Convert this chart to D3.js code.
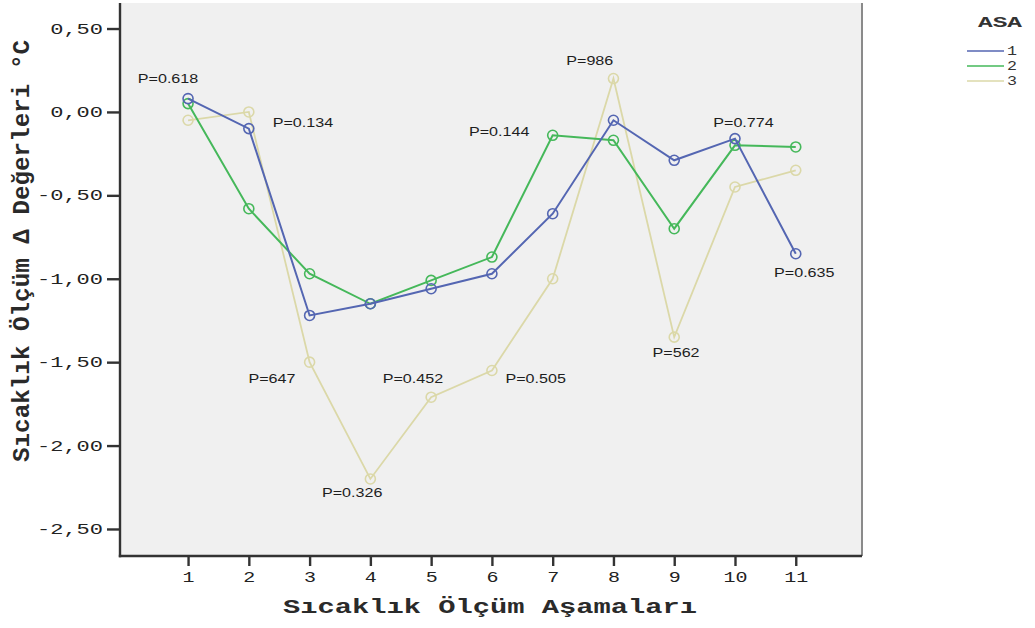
<!DOCTYPE html>
<meta charset="utf-8">
<script src="https://d3js.org/d3.v7.min.js"></script>
<style>
body { margin: 0; background: #fff; }
svg { display: block; }
.mono { font-family: "Liberation Mono", "DejaVu Sans Mono", monospace; }
.note { font-family: "Liberation Sans", Arial, sans-serif; font-size: 13px; fill: #1e1e1e; }
</style>
<svg width="1035" height="628"></svg>
<script>
const stages = [1, 2, 3, 4, 5, 6, 7, 8, 9, 10, 11];
const asa1 = [0.08, -0.10, -1.22, -1.15, -1.06, -0.97, -0.61, -0.05, -0.29, -0.16, -0.85];
const asa2 = [0.05, -0.58, -0.97, -1.15, -1.01, -0.87, -0.14, -0.17, -0.70, -0.20, -0.21];
const asa3 = [-0.05, 0.00, -1.50, -2.20, -1.71, -1.55, -1.00, 0.20, -1.35, -0.45, -0.35];
const seriesNames = ['1', '2', '3'];
const yTicks = [0.5, 0, -0.5, -1, -1.5, -2, -2.5];

// p-value notes, placed in data units (stage, value)
const noteText = ['P=0.618', 'P=0.134', 'P=647', 'P=0.326', 'P=0.452', 'P=0.505',
  'P=0.144', 'P=986', 'P=0.774', 'P=0.635', 'P=562'];
const noteStage = [0.67, 2.89, 2.38, 3.70, 4.70, 6.72, 6.12, 7.61, 10.14, 11.14, 9.03];
const noteValue = [0.20, -0.066, -1.60, -2.28, -1.60, -1.60, -0.12, 0.306, -0.066, -0.965, -1.44];

const colors = ['#5466b2', '#45b85a', '#dbd8a8'];
const widths = [2, 2, 1.8];

const svg = d3.select('svg');
const plotLeft = 120, plotRight = 862, plotTop = 3, plotBottom = 556;

const x = d3.scaleLinear().domain([-0.12, 12.09]).range([plotLeft, plotRight]);
const y = d3.scaleLinear().domain([-2.662, 0.653]).range([plotBottom, plotTop]);

svg.append('rect')
  .attr('x', plotLeft).attr('y', plotTop)
  .attr('width', plotRight - plotLeft).attr('height', plotBottom - plotTop)
  .attr('fill', '#f0f0f0');

svg.append('line')
  .attr('x1', plotRight).attr('x2', plotRight)
  .attr('y1', plotTop).attr('y2', plotBottom)
  .attr('stroke', '#8a8a8a').attr('stroke-width', 2);

const fmt = d => d3.format('.2f')(d).replace('.', ',').replace('\u2212', '-');

const yAxis = svg.append('g')
  .attr('transform', `translate(${plotLeft},0)`)
  .call(d3.axisLeft(y).tickValues(yTicks).tickFormat(fmt).tickSize(13).tickPadding(4));

yAxis.selectAll('text')
  .attr('class', 'mono')
  .attr('font-size', 14)
  .attr('fill', '#222')
  .attr('textLength', function () { return this.textContent.length * 13.2; })
  .attr('lengthAdjust', 'spacingAndGlyphs');

const xAxis = svg.append('g')
  .attr('transform', `translate(0,${plotBottom})`)
  .call(d3.axisBottom(x).tickValues(stages).tickFormat(d3.format('d')).tickSize(10).tickPadding(6));

xAxis.selectAll('text')
  .attr('class', 'mono')
  .attr('font-size', 14)
  .attr('fill', '#222')
  .attr('textLength', function () { return this.textContent.length * 12; })
  .attr('lengthAdjust', 'spacingAndGlyphs');

svg.selectAll('.domain, .tick line')
  .attr('stroke', '#333')
  .attr('stroke-width', 2.4);
yAxis.select('.domain').attr('d', `M0,${plotTop}V${plotBottom + 1.2}`);
xAxis.select('.domain').attr('d', `M${plotLeft - 1.2},0H${plotRight}`);

const line = d3.line()
  .x((d, i) => x(stages[i]))
  .y(d => y(d));

const allSeries = [asa1, asa2, asa3];

// draw beige first so blue and green sit on top
[2, 1, 0].forEach(k => {
  const g = svg.append('g');
  g.append('path')
    .datum(allSeries[k])
    .attr('d', line)
    .attr('fill', 'none')
    .attr('stroke', colors[k])
    .attr('stroke-width', widths[k]);
  g.selectAll('circle')
    .data(allSeries[k])
    .enter()
    .append('circle')
    .attr('cx', (d, i) => x(stages[i]))
    .attr('cy', d => y(d))
    .attr('r', 5)
    .attr('fill', 'none')
    .attr('stroke', colors[k])
    .attr('stroke-width', 1.6);
});

svg.selectAll('.note')
  .data(noteText)
  .enter()
  .append('text')
  .attr('class', 'note')
  .attr('transform', (d, i) => `translate(${x(noteStage[i])},${y(noteValue[i])}) scale(1.24,1)`)
  .attr('text-anchor', 'middle')
  .attr('dominant-baseline', 'central')
  .text(d => d);

svg.append('text')
  .attr('class', 'mono')
  .attr('x', 490).attr('y', 607)
  .attr('text-anchor', 'middle')
  .attr('dominant-baseline', 'central')
  .attr('font-size', 20)
  .attr('font-weight', 'bold')
  .attr('fill', '#2a2a2a')
  .attr('textLength', 414)
  .attr('lengthAdjust', 'spacingAndGlyphs')
  .text('Sıcaklık Ölçüm Aşamaları');

svg.append('text')
  .attr('class', 'mono')
  .attr('transform', 'translate(23,251) rotate(-90)')
  .attr('text-anchor', 'middle')
  .attr('dominant-baseline', 'central')
  .attr('font-size', 23)
  .attr('font-weight', 'bold')
  .attr('fill', '#2a2a2a')
  .attr('textLength', 422)
  .attr('lengthAdjust', 'spacingAndGlyphs')
  .text('Sıcaklık Ölçüm Δ Değerleri °C');

// legend
const legend = svg.append('g').attr('transform', 'translate(967,0)');
legend.append('text')
  .attr('class', 'mono')
  .attr('x', 33).attr('y', 23)
  .attr('text-anchor', 'middle')
  .attr('dominant-baseline', 'central')
  .attr('font-size', 14)
  .attr('font-weight', 'bold')
  .attr('fill', '#333')
  .attr('textLength', 44)
  .attr('lengthAdjust', 'spacingAndGlyphs')
  .text('ASA');

const item = legend.selectAll('.item')
  .data(seriesNames)
  .enter()
  .append('g')
  .attr('transform', (d, i) => `translate(0,${51 + i * 15})`);

item.append('line')
  .attr('x1', 0).attr('x2', 37)
  .attr('stroke', (d, i) => colors[i])
  .attr('stroke-width', 1.6);

item.append('text')
  .attr('class', 'mono')
  .attr('x', 40)
  .attr('dominant-baseline', 'central')
  .attr('font-size', 13)
  .attr('fill', '#333')
  .attr('textLength', 10)
  .attr('lengthAdjust', 'spacingAndGlyphs')
  .text(d => d);
</script>
